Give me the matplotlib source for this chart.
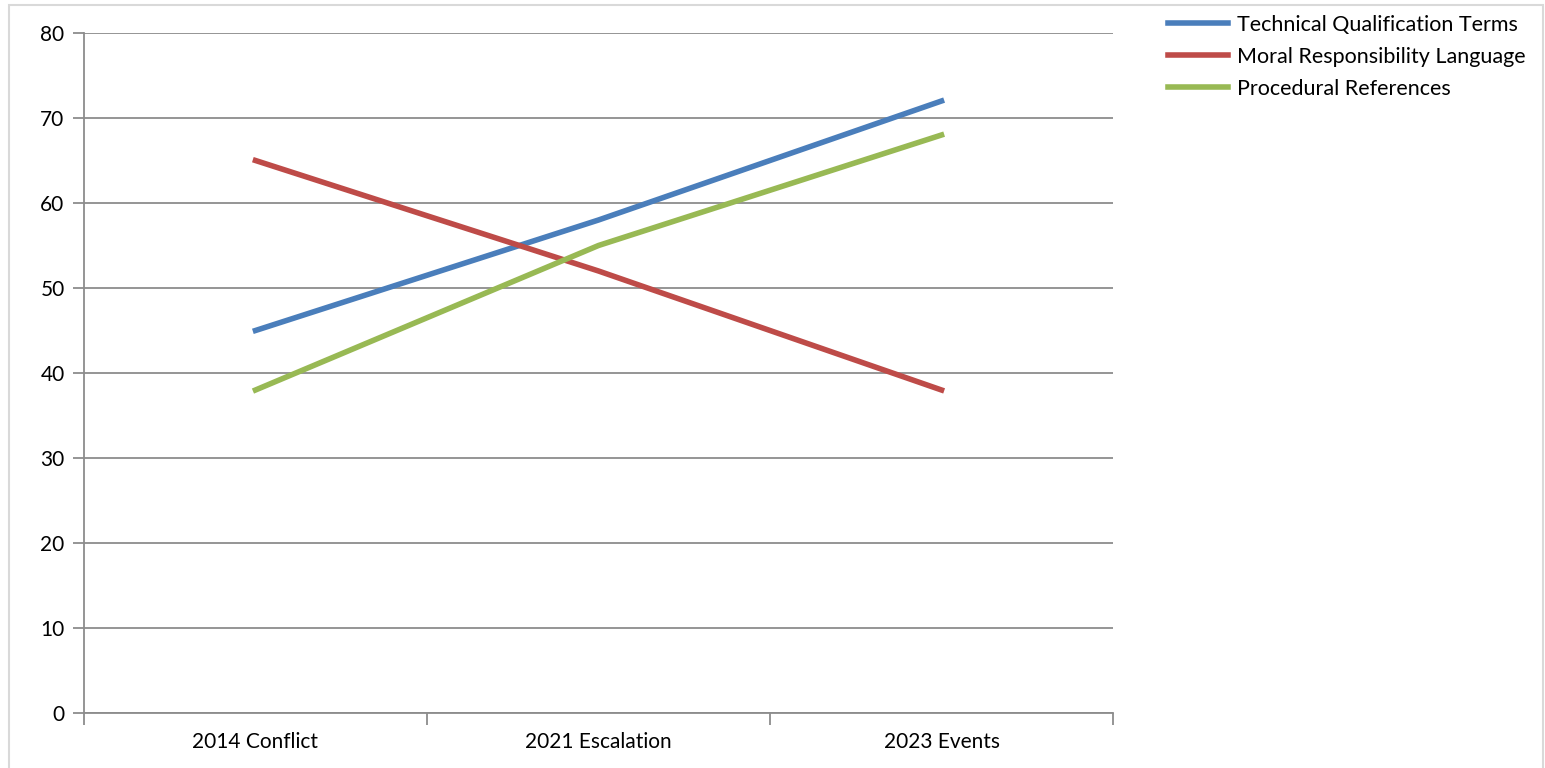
import matplotlib.pyplot as plt
from matplotlib.patches import Rectangle

# chart data
categories = ['2014 Conflict', '2021 Escalation', '2023 Events']
technical = [45, 58, 72]
moral = [65, 52, 38]
procedural = [38, 55, 68]
series_names = ['Technical Qualification Terms', 'Moral Responsibility Language', 'Procedural References']
y_ticks = [0, 10, 20, 30, 40, 50, 60, 70, 80]

plt.rcParams['font.family'] = ['Lato', 'DejaVu Sans']

W, H = 1545, 768
fig = plt.figure(figsize=(W / 100, H / 100), dpi=100)
fig.patches.append(Rectangle((9 / W, -0.1), (1543 - 9) / W, 1.1 - 5 / H,
                             transform=fig.transFigure, fill=False,
                             edgecolor='#d9d9d9', linewidth=1.5))

ax = fig.add_axes([84 / W, (H - 713) / H, (1113 - 84) / W, 680 / H])

grid_c = '#8c8c8c'
x = range(len(categories))
ax.plot(x, technical, color='#4a7ebb', lw=4, label=series_names[0])
ax.plot(x, moral, color='#be4b48', lw=4, label=series_names[1])
ax.plot(x, procedural, color='#98b954', lw=4, label=series_names[2])

ax.set_xlim(-0.5, len(categories) - 0.5)
ax.set_ylim(0, 80)
ax.set_yticks(y_ticks)
ax.set_xticks(list(x))
ax.set_xticklabels(categories)
ax.set_xticks([i - 0.5 for i in range(len(categories) + 1)], minor=True)

ax.yaxis.grid(True, color=grid_c, lw=1.3)
ax.set_axisbelow(True)
for s in ['top', 'right']:
    ax.spines[s].set_visible(False)
for s in ['left', 'bottom']:
    ax.spines[s].set_color(grid_c)
    ax.spines[s].set_linewidth(1.3)

ax.tick_params(axis='y', length=8, width=1.3, color=grid_c, pad=6, labelsize=15)
ax.tick_params(axis='x', which='major', length=0, pad=14, labelsize=15)
ax.tick_params(axis='x', which='minor', length=8.5, width=1.3, color=grid_c)

ax.legend(loc='upper left', bbox_to_anchor=(1168 / W, 1 - 15 / H),
          bbox_transform=fig.transFigure, frameon=False, fontsize=15.5,
          borderpad=0, borderaxespad=0, handlelength=2.8, handletextpad=0.4,
          labelspacing=0.55)

fig.savefig('out.png', dpi=100)
